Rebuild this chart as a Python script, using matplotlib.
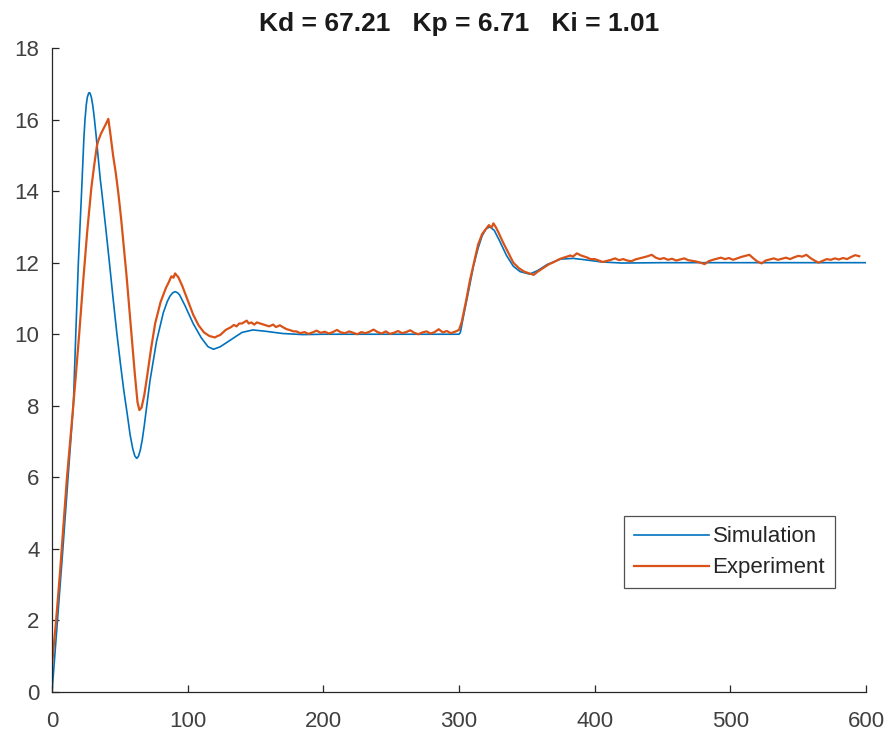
import numpy as np
import matplotlib
matplotlib.use("Agg")
import matplotlib.pyplot as plt

plt.rcParams['font.family'] = ['Liberation Sans', 'DejaVu Sans']

# simulation curve
sim_t = [0, 4, 8, 12, 15.7, 17.5, 19.4, 21.8, 23.5, 24.3, 25.2, 26, 27, 27.5, 28, 29, 30, 31, 32.5, 34,
         35.5, 36.6, 39.5, 42.3, 45, 47.7, 50.5, 53, 55.5, 57.5, 59.5, 61, 62.4, 63.6, 65, 66.5, 68, 70,
         72.2, 77, 82, 85, 87, 89, 90.7, 92.5, 94, 98, 104, 110, 115, 119, 124, 132, 140, 148, 158,
         170, 185, 200, 300,
         301, 303, 307, 310.6, 314, 317, 320, 322.8, 326, 330, 335, 340, 345, 352,
         358, 365, 375, 384, 393, 405, 420, 450, 600]
sim_y = [0, 2.0, 4.0, 6.1, 8.0, 10.0, 12.0, 14.0, 15.5, 16.0, 16.4, 16.62, 16.74, 16.75, 16.74, 16.62,
         16.4, 16.1, 15.55, 14.95, 14.35, 14.0, 13.0, 12.0, 11.0, 10.05, 9.15, 8.4, 7.75, 7.2, 6.8, 6.6,
         6.53, 6.58, 6.75, 7.05, 7.45, 8.05, 8.7, 9.8, 10.6, 10.92, 11.07, 11.16, 11.19, 11.16, 11.1, 10.8,
         10.3, 9.9, 9.65, 9.58, 9.65, 9.85, 10.05, 10.12, 10.08, 10.02, 9.99, 10.0, 10.0,
         10.05, 10.45, 11.2, 11.9, 12.4, 12.75, 12.95, 13.0, 12.9, 12.6, 12.2, 11.9, 11.75, 11.68,
         11.78, 11.95, 12.1, 12.12, 12.08, 12.02, 11.99, 12.0, 12.0]

# experiment curve, transient parts
exp_t1 = [0, 3, 6, 10.8, 14, 17, 20, 23, 26, 29, 31, 33, 34, 36, 38, 40, 41.5,
          43, 45, 47, 49, 51, 53, 55, 57, 59, 61, 63, 64.4, 66, 68, 70, 73, 76, 80,
          84, 86, 88, 89.5, 90.7, 92, 93, 96, 100, 104, 108, 112, 116, 120, 122, 124,
          128, 132, 134, 136, 138, 140, 143.5, 145, 147, 149, 151, 155, 158, 160, 163,
          165, 168, 170, 173, 175, 178]
exp_y1 = [0.75, 2.0, 3.4, 5.9, 7.3, 8.6, 10.0, 11.5, 12.9, 14.1, 14.7, 15.25, 15.4, 15.6, 15.75, 15.9, 16.02,
          15.6, 15.0, 14.5, 13.9, 13.2, 12.4, 11.6, 10.7, 9.8, 8.9, 8.1, 7.88, 7.95, 8.3, 8.8, 9.6, 10.3, 10.9,
          11.3, 11.45, 11.62, 11.58, 11.7, 11.64, 11.6, 11.35, 10.95, 10.55, 10.25, 10.05, 9.95, 9.91, 9.95, 9.98,
          10.12, 10.2, 10.26, 10.22, 10.3, 10.3, 10.38, 10.3, 10.33, 10.27, 10.33, 10.28, 10.24, 10.22, 10.27,
          10.2, 10.25, 10.2, 10.14, 10.12, 10.08]

# flat part at 10
exp_t2 = [180, 183, 186, 189, 192, 195, 198, 201, 204, 207, 210, 213, 216, 219, 222, 225, 228, 231, 234, 237,
          240, 243, 246, 249, 252, 255, 258, 261, 264, 267, 270, 273, 276, 279, 282, 285, 288, 291, 294, 297]
exp_y2 = [10.08, 10.03, 10.06, 10.01, 10.05, 10.10, 10.04, 10.07, 10.02, 10.06, 10.12, 10.05, 10.03, 10.08, 10.04,
          10.00, 10.06, 10.03, 10.07, 10.13, 10.06, 10.02, 10.08, 10.01, 10.04, 10.09, 10.03, 10.06, 10.11, 10.04,
          10.00, 10.05, 10.08, 10.02, 10.06, 10.14, 10.05, 10.09, 10.03, 10.07]

# step to 12
exp_t3 = [300, 302, 305, 308, 311, 314, 317, 320, 322, 324, 325.3, 327, 329, 332, 336, 340, 344, 348, 352,
          355, 358, 362, 366, 370, 374, 378, 382, 384, 386.8, 390, 394, 397]
exp_y3 = [10.12, 10.35, 10.9, 11.5, 12.0, 12.5, 12.8, 12.95, 13.05, 12.98, 13.1, 13.0, 12.85, 12.6, 12.3, 12.0,
          11.85, 11.75, 11.7, 11.66, 11.75, 11.85, 11.95, 12.02, 12.1, 12.15, 12.2, 12.17, 12.26, 12.2, 12.15, 12.1]

# flat part at 12
exp_t4 = [400, 403, 406, 409, 412, 415, 418, 421, 424, 427, 430, 433, 436, 439, 442, 445, 448, 451, 454, 457,
          460, 463, 466, 469, 472, 475, 478, 481, 484, 487, 490, 493, 496, 499, 502, 505, 508, 511, 514, 517,
          520, 523, 526, 529, 532, 535, 538, 541, 544, 547, 550, 553, 556, 559, 562, 565, 568, 571, 574, 577,
          580, 583, 586, 589, 592, 595]
exp_y4 = [12.10, 12.06, 12.02, 12.05, 12.08, 12.12, 12.07, 12.10, 12.06, 12.04,
          12.09, 12.12, 12.15, 12.18, 12.22, 12.14, 12.10, 12.13, 12.08, 12.11,
          12.06, 12.09, 12.12, 12.07, 12.05, 12.03, 12.00, 11.96, 12.04, 12.08,
          12.11, 12.14, 12.10, 12.13, 12.08, 12.12, 12.16, 12.19, 12.22, 12.12,
          12.03, 11.98, 12.06, 12.09, 12.12, 12.08, 12.11, 12.14, 12.10, 12.15,
          12.19, 12.17, 12.22, 12.13, 12.06, 12.00, 12.05, 12.10, 12.08, 12.12,
          12.09, 12.13, 12.10, 12.16, 12.21, 12.18]

exp_t = exp_t1 + exp_t2 + exp_t3 + exp_t4
exp_y = exp_y1 + exp_y2 + exp_y3 + exp_y4

fig = plt.figure(figsize=(8.91, 7.34), dpi=100)
ax = fig.add_axes([0.0584, 0.0572, 0.9136, 0.8774])

ax.plot(sim_t, sim_y, color='#0072BD', lw=1.2, label='Simulation')
ax.plot(exp_t, exp_y, color='#D95319', lw=1.6, label='Experiment')

ax.set_xlim(0, 600)
ax.set_ylim(0, 18)
ax.set_xticks([0, 100, 200, 300, 400, 500, 600])
ax.set_yticks(np.arange(0, 19, 2))
ax.spines['top'].set_visible(False)
ax.spines['right'].set_visible(False)
for s in ['left', 'bottom']:
    ax.spines[s].set_color('#262626')
    ax.spines[s].set_linewidth(0.9)
ax.tick_params(direction='in', length=5, width=0.9, color='#262626',
               labelcolor='#404040', labelsize=16)
ax.tick_params(axis='x', pad=14)
ax.tick_params(axis='y', pad=9)

ax.set_title('Kd = 67.21   Kp = 6.71   Ki = 1.01', fontsize=19, fontweight='bold',
             color='#1a1a1a', pad=12)

leg = ax.legend(loc='lower right', bbox_to_anchor=(0.962, 0.161), fontsize=16,
                frameon=True, fancybox=False, handlelength=3.4, borderpad=0.45,
                labelspacing=0.45, handletextpad=0.15, borderaxespad=0)
leg.get_frame().set_edgecolor('#262626')
leg.get_frame().set_linewidth(0.9)
for t in leg.get_texts():
    t.set_color('#262626')

fig.savefig('out.png', dpi=100)
